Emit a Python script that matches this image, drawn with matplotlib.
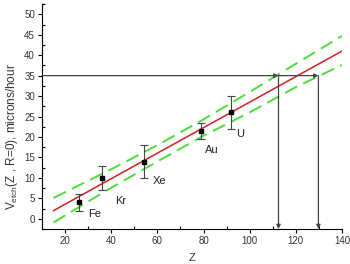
import numpy as np
import matplotlib
matplotlib.use('Agg')
import matplotlib.pyplot as plt
from matplotlib.ticker import MultipleLocator

plt.rcParams['font.family'] = ['Liberation Sans', 'DejaVu Sans']
plt.rcParams['mathtext.fontset'] = 'custom'
plt.rcParams['mathtext.rm'] = 'Liberation Sans'

# Measured points
elements = ['Fe', 'Kr', 'Xe', 'Au', 'U']
z_vals = [26, 36, 54, 79, 92]
v_etch = [4.0, 10.0, 14.0, 21.5, 26.0]
v_err = [2.0, 3.0, 4.0, 2.0, 4.0]

# Label positions (Z, V)
label_z = [33.0, 44.0, 60.8, 83.6, 95.8]
label_v = [1.2, 4.4, 9.3, 16.8, 20.7]

# Fit line and confidence band
fit_z = [15, 140]
fit_v = [2.0, 41.0]
band_z = [15, 40, 60, 80, 100, 120, 140]
band_upper = [5.1, 12.1, 18.0, 24.3, 31.0, 37.9, 44.7]
band_lower = [-0.9, 7.6, 14.0, 20.3, 26.0, 32.2, 37.6]

# Read-off level and crossings
level = 35.0
z_cross = [112.5, 129.8]

fig = plt.figure(figsize=(3.5, 2.64), dpi=100)
ax = fig.add_axes([0.12, 0.1326, 0.857, 0.852])

ax.plot(band_z, band_upper, color='#4ddd3a', lw=1.4, dashes=(7, 3.5))
ax.plot(band_z, band_lower, color='#4ddd3a', lw=1.4, dashes=(7, 3.5))
ax.plot(fit_z, fit_v, color='#cc2222', lw=1.1)

ax.errorbar(z_vals, v_etch, yerr=v_err, fmt='s', color='black',
            ecolor='#444444', elinewidth=0.8, capsize=3, capthick=0.8,
            markersize=3)

for name, x, y in zip(elements, label_z, label_v):
    ax.text(x, y, name, fontsize=8, ha='center', va='center', color='#222222')

arrow = dict(arrowstyle='-|>', color='#444444', lw=0.9,
             mutation_scale=6, shrinkA=0, shrinkB=0)
ymin = -2.5
ax.annotate('', xy=(z_cross[0], level), xytext=(10, level), arrowprops=arrow)
ax.annotate('', xy=(z_cross[1], level), xytext=(z_cross[0], level),
            arrowprops=arrow)
for zc in z_cross:
    ax.annotate('', xy=(zc, ymin), xytext=(zc, level), arrowprops=arrow)

ax.set_xlim(10, 140)
ax.set_ylim(ymin, 52.5)
ax.xaxis.set_major_locator(MultipleLocator(20))
ax.xaxis.set_minor_locator(MultipleLocator(10))
ax.yaxis.set_major_locator(MultipleLocator(5))
ax.yaxis.set_minor_locator(MultipleLocator(2.5))
ax.set_xticks(np.arange(20, 141, 20))
ax.tick_params(which='major', direction='out', length=3, width=0.8,
               labelsize=7, pad=2, labelcolor='#333333')
ax.tick_params(which='minor', direction='in', length=2, width=0.8)

for side in ['top', 'right']:
    ax.spines[side].set_visible(False)
for side in ['left', 'bottom']:
    ax.spines[side].set_linewidth(0.8)

ax.set_xlabel('Z', fontsize=8, labelpad=5, color='#333333')
ax.set_ylabel(r'V$_{\rm etch}$(Z , R=0), microns/hour', fontsize=8.5,
              color='#333333')
ax.yaxis.set_label_coords(-0.075, 0.41)

fig.savefig('out.png', dpi=100)
